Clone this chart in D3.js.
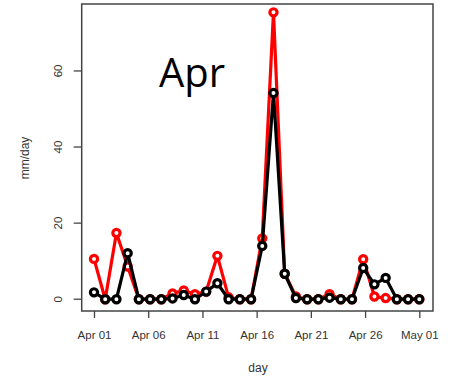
<!DOCTYPE html>
<html>
<head>
    <title>Apr rainfall</title>
    <script src="https://d3js.org/d3.v7.min.js"></script>
    <style>
        body { margin: 0; background: #fff; }
        .axis text { font-family: "Liberation Sans", Arial, sans-serif; font-size: 11.5px; fill: #333; }
        .title { font-family: "Liberation Sans", Arial, sans-serif; font-size: 12px; fill: #333; }
        .month { font-family: "Open Sans", sans-serif; font-size: 40px; fill: #000; }
    </style>
</head>
<body>
    <svg width="452" height="381"></svg>

    <script>
        // daily values, Apr 01 .. Apr 30
        const red = [10.6, 0, 17.4, 8.6, 0, 0, 0, 1.5, 2.3, 1.3,
                     2, 11.4, 0.5, 0, 0, 16, 75.4, 6.7, 0.7, 0,
                     0, 1.3, 0, 0, 10.5, 0.7, 0.3, 0, 0, 0];
        const black = [1.8, 0, 0, 12.1, 0, 0, 0, 0.2, 1.1, 0,
                       2, 4.2, 0, 0, 0, 14, 54.2, 6.7, 0.3, 0,
                       0, 0.4, 0, 0, 8.2, 3.9, 5.6, 0, 0, 0];
        const yTicks = [0, 20, 40, 60];
        const xTickLabels = ["2000-04-01", "2000-04-06", "2000-04-11", "2000-04-16",
                             "2000-04-21", "2000-04-26", "2000-05-01"];

        const svg = d3.select("svg");
        const box = {left: 81.7, right: 433, top: 4, bottom: 311};

        const y = d3.scaleLinear().domain([-3.1, 77.6]).range([box.bottom, box.top]);
        const xDate = d3.scaleUtc()
            .domain([new Date("2000-04-01"), new Date("2000-05-01")])
            .range([94, 419.3]);
        // points are plotted by index across the same span
        const xIdx = d3.scaleLinear().domain([0, red.length - 1]).range(xDate.range());

        // box
        svg.append("rect")
            .attr("x", box.left).attr("y", box.top)
            .attr("width", box.right - box.left).attr("height", box.bottom - box.top)
            .attr("fill", "none").attr("stroke", "#444").attr("stroke-width", 1.5);

        // x axis
        const xAxis = svg.append("g")
            .attr("class", "axis")
            .attr("transform", `translate(0,${box.bottom})`)
            .call(d3.axisBottom(xDate)
                .tickValues(xTickLabels.map(s => new Date(s)))
                .tickFormat(d3.utcFormat("%b %d"))
                .tickSize(7).tickPadding(13));
        xAxis.select(".domain").remove();
        xAxis.selectAll("line").attr("stroke", "#444").attr("stroke-width", 1.3);

        // y axis
        const yAxis = svg.append("g")
            .attr("class", "axis")
            .attr("transform", `translate(${box.left},0)`)
            .call(d3.axisLeft(y).tickValues(yTicks).tickSize(8).tickPadding(0));
        yAxis.select(".domain").remove();
        yAxis.selectAll("line").attr("stroke", "#444").attr("stroke-width", 1.3);
        yAxis.selectAll("text")
            .attr("text-anchor", "middle")
            .attr("x", 0).attr("dy", 0)
            .attr("transform", d => `translate(-23,${y(d)}) rotate(-90)`)
            .attr("y", 0)
            .attr("dominant-baseline", "middle");
        yAxis.selectAll(".tick").attr("transform", "translate(0,0)");
        yAxis.selectAll(".tick line").attr("transform", d => `translate(0,${y(d)})`);

        // titles
        svg.append("text").attr("class", "title")
            .attr("x", 258).attr("y", 372).attr("text-anchor", "middle").text("day");
        svg.append("text").attr("class", "title")
            .attr("transform", "translate(29,158) rotate(-90)")
            .attr("text-anchor", "middle").text("mm/day");

        // series
        const line = d3.line().x((d, i) => xIdx(i)).y(d => y(d));

        function drawSeries(data, color) {
            svg.append("path")
                .datum(data)
                .attr("d", line)
                .attr("fill", "none")
                .attr("stroke", color)
                .attr("stroke-width", 3.2)
                .attr("stroke-linejoin", "round");
            svg.append("g")
                .selectAll("circle")
                .data(data)
                .enter().append("circle")
                .attr("cx", (d, i) => xIdx(i))
                .attr("cy", d => y(d))
                .attr("r", 3.6)
                .attr("fill", "#fff")
                .attr("stroke", color)
                .attr("stroke-width", 3.2);
        }
        drawSeries(red, "#ff0000");
        drawSeries(black, "#000");

        svg.append("text").attr("class", "month")
            .attr("x", 159).attr("y", 87).text("Apr");
    </script>
</body>
</html>
